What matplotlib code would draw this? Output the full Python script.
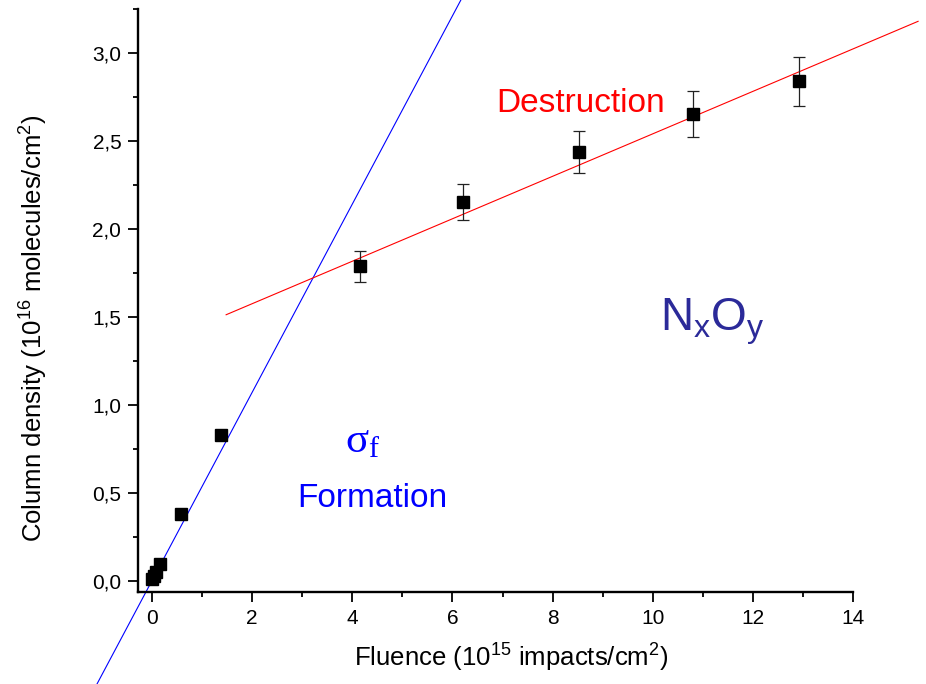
import matplotlib
matplotlib.use("Agg")
import matplotlib.pyplot as plt
from matplotlib.ticker import MultipleLocator, FuncFormatter

plt.rcParams['font.family'] = ['Liberation Sans', 'DejaVu Sans']

# measured column densities
fluence = [0.0, 0.03, 0.07, 0.16, 0.57, 1.37, 4.15, 6.22, 8.53, 10.8, 12.93]
density = [0.01, 0.03, 0.05, 0.10, 0.38, 0.83, 1.79, 2.155, 2.44, 2.655, 2.84]
density_err = [0.0, 0.0, 0.0, 0.0, 0.01, 0.03, 0.088, 0.105, 0.12, 0.13, 0.14]

# linear fits (end points)
formation_x = [-1.4, 6.4]
formation_y = [-0.746, 3.427]
destruction_x = [1.48, 15.3]
destruction_y = [1.514, 3.182]

x_ticks = [0, 2, 4, 6, 8, 10, 12, 14]
y_ticks = [0.0, 0.5, 1.0, 1.5, 2.0, 2.5, 3.0]

fig = plt.figure(figsize=(9.26, 6.84), dpi=100)
ax = fig.add_axes([138 / 926, 92 / 684, 715 / 926, 583 / 684])

ax.plot(formation_x, formation_y, color='#0000ff', lw=0.8, clip_on=False, zorder=2)
ax.plot(destruction_x, destruction_y, color='#ff0000', lw=0.8, clip_on=False, zorder=2)
ax.errorbar(fluence, density, yerr=density_err, fmt='s', color='black', ms=8,
            ecolor='#222222', elinewidth=0.9, capsize=4.5, capthick=0.9,
            clip_on=False, zorder=3)

ax.set_xlim(-0.28, 14)
ax.set_ylim(-0.062, 3.252)
ax.set_xticks(x_ticks)
ax.set_yticks(y_ticks)
ax.xaxis.set_minor_locator(MultipleLocator(1))
ax.yaxis.set_minor_locator(MultipleLocator(0.25))
ax.yaxis.set_major_formatter(FuncFormatter(lambda v, p: f"{v:.1f}".replace('.', ',')))

for s in ['top', 'right']:
    ax.spines[s].set_visible(False)
for s in ['left', 'bottom']:
    ax.spines[s].set_linewidth(1.7)
ax.tick_params(which='major', direction='out', length=7, width=1.3, labelsize=15, pad=5)
ax.tick_params(which='minor', direction='out', length=3.4, width=1.3)

fig.text(511 / 926, (684 - 666) / 684, 'Fluence (10$^{\\mathregular{15}}$ impacts/cm$^{\\mathregular{2}}$)',
         ha='center', va='baseline', fontsize=18.5)
fig.text(33 / 926, (684 - 328.5) / 684,
         'Column density (10$^{\\mathregular{16}}$ molecules/cm$^{\\mathregular{2}}$)',
         ha='center', va='center', rotation=90, fontsize=18.5)

ax.text(8.55, 2.666, 'Destruction', color='#ff0000', fontsize=24, ha='center', va='baseline')
ax.text(2.90, 0.421, 'Formation', color='#0000ff', fontsize=24, ha='left', va='baseline')
ax.text(3.85, 0.732, '$\\mathregular{σ_f}$', color='#0000ff', fontsize=31,
        family='Liberation Serif', ha='left', va='baseline')
ax.text(10.15, 1.424, '$\\mathregular{N_xO_y}$', color='#2b2a99', fontsize=33,
        ha='left', va='baseline')

fig.savefig('out.png', dpi=100)
